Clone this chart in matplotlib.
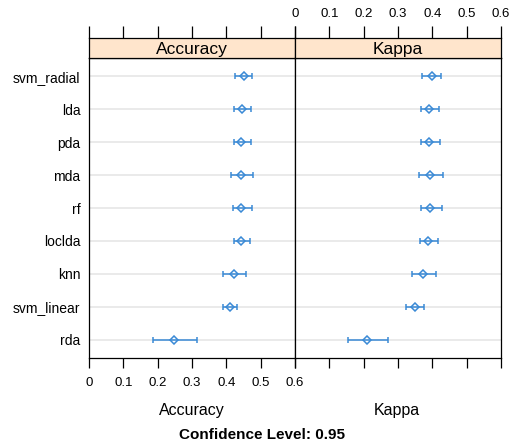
import matplotlib.pyplot as plt
import numpy as np

plt.rcParams['font.family'] = ['Liberation Sans', 'DejaVu Sans']

models = ["svm_radial", "lda", "pda", "mda", "rf", "loclda", "knn", "svm_linear", "rda"]
acc = [0.450, 0.446, 0.443, 0.443, 0.443, 0.443, 0.421, 0.412, 0.249]
acc_lo = [0.426, 0.422, 0.422, 0.413, 0.419, 0.422, 0.390, 0.390, 0.186]
acc_hi = [0.474, 0.471, 0.471, 0.478, 0.474, 0.468, 0.457, 0.432, 0.315]
kap = [0.398, 0.391, 0.391, 0.394, 0.394, 0.388, 0.372, 0.350, 0.209]
kap_lo = [0.371, 0.366, 0.366, 0.360, 0.366, 0.363, 0.341, 0.324, 0.153]
kap_hi = [0.426, 0.420, 0.421, 0.432, 0.429, 0.416, 0.410, 0.375, 0.272]
ticks = [0, 0.1, 0.2, 0.3, 0.4, 0.5, 0.6]
tick_labels = ["0", "0.1", "0.2", "0.3", "0.4", "0.5", "0.6"]

W, H = 515, 447
fig = plt.figure(figsize=(W / 100, H / 100), dpi=100)

blue = "#3a8ad6"
y = np.arange(len(models))[::-1] + 1

panels = [("Accuracy", acc, acc_lo, acc_hi, 89), ("Kappa", kap, kap_lo, kap_hi, 295)]
for i, (name, v, lo, hi, x0) in enumerate(panels):
    ax = fig.add_axes([x0 / W, (H - 358) / H, 206 / W, 300 / H])
    ax.set_xlim(0, 0.6)
    ax.set_ylim(0.45, 9.55)
    for yy in y:
        ax.axhline(yy, color="#e6e6e6", lw=1.2, zorder=0)
    v = np.array(v)
    err = [v - np.array(lo), np.array(hi) - v]
    ax.errorbar(v, y, xerr=err, fmt="D", color=blue, mfc="none", mec=blue,
                ms=4.5, mew=1.1, elinewidth=1.1, capsize=2.5, capthick=1.1)
    ax.set_xticks(ticks)
    ax.tick_params(axis="x", direction="out", length=7, width=0.9, pad=7,
                   labelsize=9.5, colors="black")
    if i == 0:
        ax.set_xticklabels(tick_labels)
        ax.set_yticks(y)
        ax.set_yticklabels(models, fontsize=10)
        ax.tick_params(axis="y", length=0, pad=6)
    else:
        ax.set_xticklabels([])
        ax.set_yticks([])
    for s in ax.spines.values():
        s.set_linewidth(0.9)

    # strip
    sx = fig.add_axes([x0 / W, (H - 58) / H, 206 / W, 20 / H])
    sx.set_facecolor("#ffe5cc")
    sx.set_xlim(0, 0.6)
    sx.set_ylim(0, 1)
    sx.set_yticks([])
    sx.xaxis.tick_top()
    sx.set_xticks(ticks)
    sx.tick_params(axis="x", direction="out", length=9, width=0.9, pad=4,
                   labelsize=9.5)
    if i == 1:
        sx.set_xticklabels(tick_labels)
    else:
        sx.set_xticklabels([])
    sx.text(0.5, 0.42, name, ha="center", va="center", fontsize=12.5,
            transform=sx.transAxes)
    for s in sx.spines.values():
        s.set_linewidth(0.9)

fig.text(192 / W, 1 - 411 / H, "Accuracy", ha="center", va="center", fontsize=11.5)
fig.text(397 / W, 1 - 411 / H, "Kappa", ha="center", va="center", fontsize=11.5)
fig.text(262 / W, 1 - 435 / H, "Confidence Level: 0.95", ha="center",
         va="center", fontsize=11, fontweight="bold")

fig.savefig("out.png", dpi=100)
